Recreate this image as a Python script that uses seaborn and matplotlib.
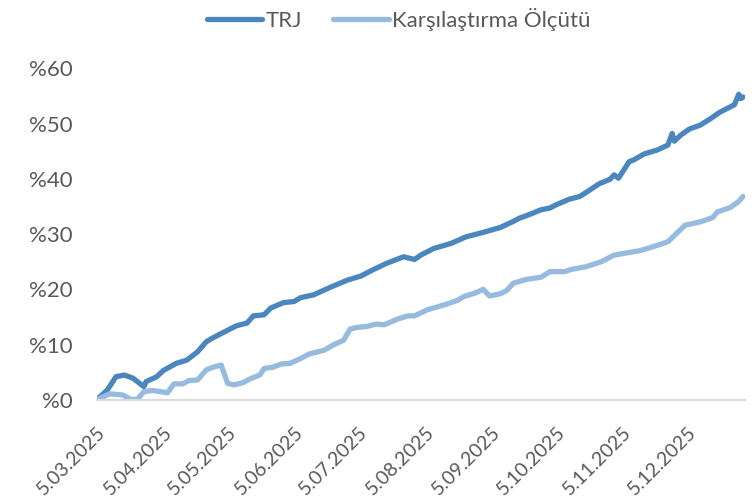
import pandas as pd
import numpy as np
import matplotlib
matplotlib.use("Agg")
import matplotlib.pyplot as plt
import matplotlib.dates as mdates
import matplotlib.ticker as ticker
import seaborn as sns

# series (cumulative return, %)
trj_dates = [
    "2025-03-05", "2025-03-10", "2025-03-14", "2025-03-18", "2025-03-22", "2025-03-25",
    "2025-03-27", "2025-03-28", "2025-04-02", "2025-04-05", "2025-04-11", "2025-04-16",
    "2025-04-21", "2025-04-25", "2025-04-28", "2025-05-03", "2025-05-09", "2025-05-14",
    "2025-05-17", "2025-05-22", "2025-05-25", "2025-05-31", "2025-06-05", "2025-06-08",
    "2025-06-14", "2025-06-22", "2025-06-30", "2025-07-06", "2025-07-12", "2025-07-18",
    "2025-07-26", "2025-07-31", "2025-08-03", "2025-08-09", "2025-08-17", "2025-08-24",
    "2025-09-01", "2025-09-09", "2025-09-14", "2025-09-18", "2025-09-21", "2025-09-28",
    "2025-10-02", "2025-10-05", "2025-10-11", "2025-10-16", "2025-10-20", "2025-10-25",
    "2025-10-30", "2025-11-01", "2025-11-03", "2025-11-06", "2025-11-08", "2025-11-10",
    "2025-11-15", "2025-11-21", "2025-11-26", "2025-11-28", "2025-11-29", "2025-12-02",
    "2025-12-06", "2025-12-11", "2025-12-16", "2025-12-20", "2025-12-27", "2025-12-29",
    "2025-12-30", "2025-12-31",
]
trj_values = [
    0.0, 1.8, 4.2, 4.5, 3.9, 3.0,
    2.4, 3.3, 4.2, 5.3, 6.6, 7.2,
    8.7, 10.5, 11.2, 12.2, 13.4, 13.9,
    15.2, 15.4, 16.6, 17.6, 17.8, 18.5,
    19.0, 20.4, 21.7, 22.4, 23.6, 24.7,
    25.9, 25.4, 26.2, 27.4, 28.3, 29.5,
    30.3, 31.2, 32.1, 32.9, 33.3, 34.4,
    34.7, 35.3, 36.3, 36.8, 37.8, 39.1,
    39.9, 40.7, 40.1, 41.9, 43.1, 43.4,
    44.5, 45.2, 46.1, 48.2, 46.8, 47.9,
    49.0, 49.7, 50.9, 52.0, 53.4, 55.3,
    54.5, 54.8,
]

bm_dates = [
    "2025-03-05", "2025-03-11", "2025-03-17", "2025-03-21", "2025-03-24", "2025-03-27",
    "2025-03-31", "2025-04-07", "2025-04-10", "2025-04-14", "2025-04-17", "2025-04-21",
    "2025-04-25", "2025-04-28", "2025-05-02", "2025-05-05", "2025-05-08", "2025-05-12",
    "2025-05-16", "2025-05-20", "2025-05-22", "2025-05-26", "2025-05-30", "2025-06-03",
    "2025-06-08", "2025-06-12", "2025-06-19", "2025-06-23", "2025-06-28", "2025-07-01",
    "2025-07-04", "2025-07-09", "2025-07-13", "2025-07-17", "2025-07-23", "2025-07-28",
    "2025-07-31", "2025-08-06", "2025-08-14", "2025-08-20", "2025-08-23", "2025-08-28",
    "2025-09-01", "2025-09-04", "2025-09-09", "2025-09-12", "2025-09-15", "2025-09-21",
    "2025-09-28", "2025-10-02", "2025-10-09", "2025-10-12", "2025-10-19", "2025-10-26",
    "2025-11-01", "2025-11-07", "2025-11-13", "2025-11-19", "2025-11-26", "2025-11-30",
    "2025-12-04", "2025-12-11", "2025-12-17", "2025-12-19", "2025-12-25", "2025-12-29",
    "2025-12-31",
]
bm_values = [
    0.0, 1.1, 0.9, 0.1, 0.1, 1.5,
    1.7, 1.3, 2.9, 2.9, 3.5, 3.6,
    5.4, 5.9, 6.3, 3.0, 2.7, 3.1,
    3.9, 4.5, 5.7, 5.9, 6.5, 6.6,
    7.5, 8.3, 9.0, 9.9, 10.8, 12.8,
    13.1, 13.3, 13.7, 13.6, 14.6, 15.2,
    15.2, 16.3, 17.2, 18.0, 18.7, 19.3,
    20.0, 18.8, 19.2, 19.8, 21.1, 21.8,
    22.2, 23.2, 23.2, 23.6, 24.1, 25.0,
    26.2, 26.6, 27.0, 27.7, 28.6, 30.1,
    31.6, 32.2, 33.0, 34.0, 34.8, 35.9,
    36.8,
]

series_names = ["TRJ", "Karşılaştırma Ölçütü"]
series_colors = ["#4b86bf", "#97badf"]

# long form table for seaborn
df = pd.concat([
    pd.DataFrame({"Tarih": pd.to_datetime(trj_dates), "Getiri": trj_values, "Seri": series_names[0]}),
    pd.DataFrame({"Tarih": pd.to_datetime(bm_dates), "Getiri": bm_values, "Seri": series_names[1]}),
], ignore_index=True)

sns.set_style("white")
plt.rcParams["font.family"] = ["Lato", "DejaVu Sans"]

fig = plt.figure(figsize=(7.55, 4.98), dpi=100)
ax = fig.add_axes([0.128, 0.197, 0.859, 0.666])

sns.lineplot(data=df, x="Tarih", y="Getiri", hue="Seri", hue_order=series_names,
             palette=series_colors, linewidth=3.8, ax=ax, legend=False,
             solid_capstyle="round", solid_joinstyle="round")

ax.set_xlim(pd.Timestamp("2025-03-05"), pd.Timestamp("2026-01-01"))
ax.set_ylim(0, 60)
ax.yaxis.set_major_locator(ticker.MultipleLocator(10))
ax.yaxis.set_major_formatter(ticker.FuncFormatter(lambda v, p: f"%{v:.0f}"))

ax.xaxis.set_major_locator(mdates.MonthLocator(bymonthday=5))
ax.xaxis.set_major_formatter(ticker.FuncFormatter(
    lambda v, p: f"{mdates.num2date(v).day}.{mdates.num2date(v).month:02d}.{mdates.num2date(v).year}"))

for side in ["top", "right", "left"]:
    ax.spines[side].set_visible(False)
ax.spines["bottom"].set_color("#d9d9d9")
ax.spines["bottom"].set_linewidth(1.5)

ax.tick_params(axis="x", which="major", direction="out", length=6, width=1.5,
               color="#d9d9d9", labelsize=14, labelcolor="#595959", pad=11)
ax.tick_params(axis="y", length=0, labelsize=16, labelcolor="#595959", pad=17)
for lab in ax.get_xticklabels():
    lab.set_rotation(45)
    lab.set_ha("right")
    lab.set_va("top")
    lab.set_rotation_mode("anchor")

ax.set_xlabel("")
ax.set_ylabel("")
ax.grid(False)

handles = [plt.Line2D([], [], color=c, linewidth=3.8, solid_capstyle="round") for c in series_colors]
fig.legend(handles, series_names, loc="upper center", bbox_to_anchor=(0.528, 1.025), ncol=2,
           frameon=False, fontsize=16, labelcolor="#595959", handlelength=2.5,
           handletextpad=0.15, columnspacing=1.4)

fig.savefig("out.png", dpi=100)
